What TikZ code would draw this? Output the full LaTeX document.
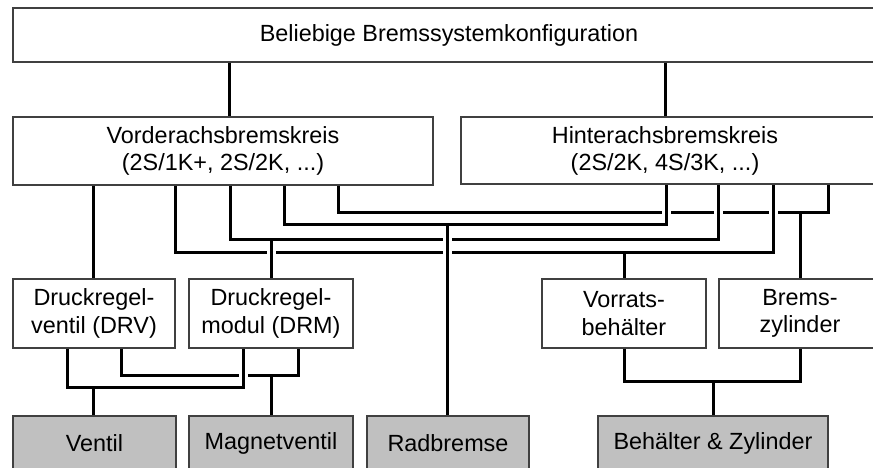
\documentclass[tikz,border=0pt]{standalone}
\usepackage{fontspec}
\setmainfont{Liberation Sans}
\usetikzlibrary{calc}
\definecolor{partgray}{RGB}{192,192,192}
\begin{document}
\begin{tikzpicture}[x=1pt,y=-1pt,
  lbl/.style={inner sep=0pt, align=center, font=\fontsize{23.4}{27.5}\selectfont},
  box/.style={lbl, draw=black!75, line width=1.3pt, fill=white},
  partbox/.style={box, fill=partgray},
  conn/.style={line width=3pt, black, line join=miter},
  hop/.style={conn, preaction={draw=white, line width=9pt}}]
\useasboundingbox (0,0) rectangle (873,467);
\clip (0,0) rectangle (873,467);

% configuration level
\node[box, minimum width=872pt, minimum height=54pt] (top) at (449,35)
  {Beliebige Bremssystemkonfiguration};

% axle circuits
\node[box, minimum width=420pt, minimum height=68pt] (vak) at (223,151)
  {Vorderachsbremskreis\\(2S/1K+, 2S/2K, ...)};
\node[box, minimum width=430pt, minimum height=67pt] (hak) at (676,150.5) {};
\node[lbl] (hakt) at (665,151) {Hinterachsbremskreis\\(2S/2K, 4S/3K, ...)};

% components
\node[box, minimum width=162pt, minimum height=69pt] (drv) at (94,313.5)
  {Druckregel-\\ventil (DRV)};
\node[box, minimum width=164pt, minimum height=69pt] (drm) at (271,313.5)
  {Druckregel-\\modul (DRM)};
\node[box, minimum width=164pt, minimum height=69pt] (vb) at (624,313.5)
  {Vorrats-\\behälter};
\node[box, minimum width=162pt, minimum height=69pt] (bz) at (800,313.5)
  {Brems-\\zylinder};

% parts
\node[partbox, minimum width=163pt, minimum height=54pt] (ventil) at (94.5,443) {Ventil};
\node[partbox, minimum width=164pt, minimum height=54pt] (magnet) at (271,443) {Magnetventil};
\node[partbox, minimum width=162pt, minimum height=54pt] (rad) at (448,443) {Radbremse};
\node[partbox, minimum width=230pt, minimum height=54pt] (beh) at (713,443) {Behälter \& Zylinder};

% lanes (x) and rows (y)
\coordinate (t1) at (229,0);  \coordinate (t2) at (665,0);
\coordinate (a1) at (93,0);   \coordinate (a2) at (175,0);
\coordinate (a3) at (230,0);  \coordinate (a4) at (284,0);
\coordinate (a5) at (338,0);
\coordinate (h1) at (666,0);  \coordinate (h2) at (718,0);
\coordinate (h3) at (773,0);  \coordinate (h4) at (828,0);
\coordinate (d1) at (271,0);  \coordinate (d2) at (447,0);
\coordinate (d3) at (624,0);  \coordinate (d4) at (800,0);
\coordinate (r1) at (0,212);  \coordinate (r2) at (0,224);
\coordinate (r3) at (0,239);  \coordinate (r4) at (0,252);
\coordinate (b1) at (67,0);   \coordinate (b2) at (121,0);
\coordinate (b3) at (243,0);  \coordinate (b4) at (298,0);
\coordinate (r5) at (0,375);  \coordinate (r6) at (0,387);
\coordinate (r7) at (0,381);

% configuration to axle circuits
\draw[conn] (top.south -| t1) -- (vak.north -| t1);
\draw[conn] (top.south -| t2) -- (hak.north -| t2);

% axle circuits to components
\draw[conn] (vak.south -| a1) -- (drv.north -| a1);
\draw[conn] (vak.south -| a5) -- (a5 |- r1) -- (h4 |- r1) -- (hak.south -| h4);
\draw[conn] (d4 |- r1) -- (bz.north -| d4);
\draw[conn] (vak.south -| a4) -- (a4 |- r2) -- (h1 |- r2) -- (hak.south -| h1);
\draw[conn] (d2 |- r2) -- (rad.north -| d2);
\draw[conn] (vak.south -| a3) -- (a3 |- r3) -- (h2 |- r3) -- (hak.south -| h2);
\draw[conn] (d1 |- r3) -- (drm.north -| d1);
\draw[conn] (vak.south -| a2) -- (a2 |- r4) -- (h3 |- r4) -- (hak.south -| h3);
\draw[conn] (d3 |- r4) -- (vb.north -| d3);

% crossings without contact
\draw[hop] ($(h1 |- r1)+(0,-5)$) -- ($(h1 |- r1)+(0,5)$);
\draw[hop] ($(h2 |- r1)+(0,-5)$) -- ($(h2 |- r1)+(0,5)$);
\draw[hop] ($(h3 |- r1)+(0,-5)$) -- ($(h3 |- r1)+(0,5)$);
\draw[hop] ($(d2 |- r3)+(0,-5)$) -- ($(d2 |- r3)+(0,5)$);
\draw[hop] ($(d2 |- r4)+(0,-5)$) -- ($(d2 |- r4)+(0,5)$);
\draw[hop] ($(d1 |- r4)+(0,-5)$) -- ($(d1 |- r4)+(0,5)$);

% components to parts
\draw[conn] (drv.south -| b1) -- (b1 |- r6) -- (b3 |- r6) -- (drm.south -| b3);
\draw[conn] (a1 |- r6) -- (ventil.north -| a1);
\draw[conn] (drv.south -| b2) -- (b2 |- r5) -- (b4 |- r5) -- (drm.south -| b4);
\draw[conn] (magnet.north |- r5) -- (magnet.north);
\draw[hop] ($(b3 |- r5)+(0,-5)$) -- ($(b3 |- r5)+(0,5)$);
\draw[conn] (vb.south) -- (vb |- r7) -- (bz |- r7) -- (bz.south);
\draw[conn] (beh.north |- r7) -- (beh.north);
\end{tikzpicture}
\end{document}
